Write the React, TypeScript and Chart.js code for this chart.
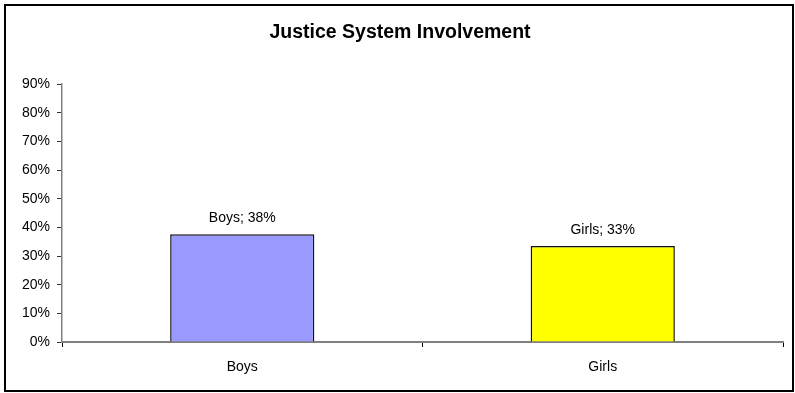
import React, { useEffect, useRef } from "react";
import { Chart, registerables } from "chart.js";

Chart.register(...registerables);

const categories = ["Boys", "Girls"];
const values = [37.6, 33.5];
const valueLabels = ["Boys; 38%", "Girls; 33%"];
const barColors = ["#9999FF", "#FFFF00"];
const yTicks = [0, 10, 20, 30, 40, 50, 60, 70, 80, 90];
const titleText = "Justice System Involvement";

const FONT = "'Liberation Sans', Arial, sans-serif";

const decorPlugin = {
  id: "decor",
  beforeDraw(chart: any) {
    const ctx = chart.ctx;
    ctx.save();
    ctx.fillStyle = "#ffffff";
    ctx.fillRect(0, 0, chart.width, chart.height);
    ctx.strokeStyle = "#000000";
    ctx.lineWidth = 2;
    ctx.strokeRect(5, 5, 788, 386);
    ctx.restore();
  },
  afterDraw(chart: any) {
    const ctx = chart.ctx;
    ctx.save();
    ctx.fillStyle = "#000000";
    ctx.font = `bold 19.5px ${FONT}`;
    ctx.textAlign = "center";
    ctx.textBaseline = "middle";
    ctx.fillText(titleText, 400, 33);
    ctx.font = `14px ${FONT}`;
    ctx.textBaseline = "middle";
    const meta = chart.getDatasetMeta(0);
    meta.data.forEach((bar: any, i: number) => {
      ctx.fillText(valueLabels[i], bar.x, bar.y - 16);
    });
    ctx.restore();
  },
};

export default function App() {
  const ref = useRef<HTMLCanvasElement | null>(null);
  useEffect(() => {
    if (!ref.current) return;
    const chart = new Chart(ref.current, {
      type: "bar",
      data: {
        labels: categories,
        datasets: [
          {
            data: values,
            backgroundColor: barColors,
            borderColor: "#111111",
            borderWidth: 1.5,
            barPercentage: 0.4,
            categoryPercentage: 1,
          },
        ],
      },
      options: {
        responsive: false,
        animation: false,
        layout: { padding: { left: 0, right: 12, top: 84, bottom: 0 } },
        plugins: {
          legend: { display: false },
          title: { display: false },
          tooltip: { enabled: false },
        },
        scales: {
          x: {
            grid: {
              offset: true,
              drawOnChartArea: false,
              drawTicks: true,
              tickLength: 5,
              color: "#000000",
            },
            border: { display: true, color: "#808080", width: 2 },
            ticks: {
              color: "#000000",
              font: { family: FONT, size: 14 },
              padding: 12,
            },
            afterFit: (scale: any) => {
              scale.height = 51;
            },
          },
          y: {
            min: 0,
            max: 90,
            afterBuildTicks: (scale: any) => {
              scale.ticks = yTicks.map((v) => ({ value: v }));
            },
            grid: {
              drawOnChartArea: false,
              drawTicks: true,
              tickLength: 5,
              color: "#333333",
            },
            border: { display: true, color: "#808080", width: 1.5 },
            ticks: {
              color: "#000000",
              font: { family: FONT, size: 14 },
              padding: 7,
              callback: (v: any) => `${v}%`,
            },
            afterFit: (scale: any) => {
              scale.width = 62;
            },
          },
        },
      },
      plugins: [decorPlugin],
    });
    return () => chart.destroy();
  }, []);
  return (
    <div style={{ position: "fixed", left: 0, top: 0, width: 795, height: 393, background: "#fff" }}>
      <canvas ref={ref} width={795} height={393} style={{ display: "block" }} />
    </div>
  );
}
